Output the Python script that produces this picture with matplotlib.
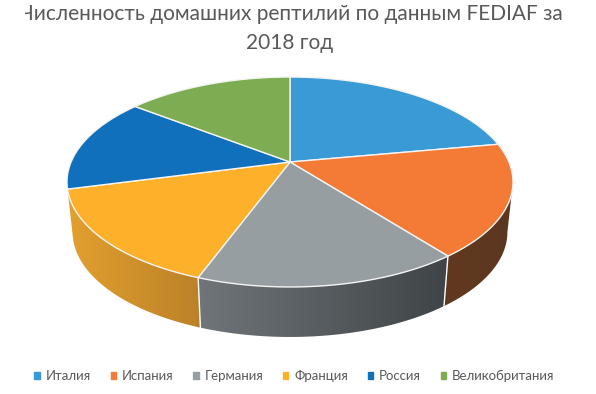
import numpy as np
import matplotlib
matplotlib.use("Agg")
import matplotlib.pyplot as plt
from matplotlib.patches import Polygon, Patch, Rectangle
from matplotlib.colors import LinearSegmentedColormap

plt.rcParams['font.family'] = ['Lato', 'Open Sans', 'DejaVu Sans']

categories = ["Италия", "Испания", "Германия", "Франция", "Россия", "Великобритания"]
shares = [22.1, 17.4, 16.1, 15.3, 14.6, 14.5]
colors = ["#3A9AD6", "#F47B35", "#979EA2", "#FDB02A", "#1170BB", "#7DAC52"]
side_left = ["#3A9AD6", "#61391F", "#70757A", "#E2A02E", "#1170BB", "#7DAC52"]
side_right = ["#3A9AD6", "#5C3720", "#3F4447", "#BC8128", "#1170BB", "#7DAC52"]
title_lines = ["Численность домашних рептилий по данным FEDIAF за", "2018 год"]
text_color = "#595959"

# perspective of the pie disc, in pixels of the picture
CX, CY = 290, 162
PERSP = 0.1905
SCALE_X, SCALE_Y = 218.9, -70.3
DEPTH = 50
SHRINK = 0.975


def top_rim(theta):
    # theta in degrees, clockwise from 12 o'clock
    t = np.radians(theta)
    x, y = np.sin(t), np.cos(t)
    w = 1 + PERSP * y
    return CX + SCALE_X * x / w, (CY + SCALE_Y * y) / w


def bottom_rim(theta):
    x, y = top_rim(theta)
    return CX + (x - CX) * SHRINK, y + DEPTH


fig = plt.figure(figsize=(5.96, 3.94), dpi=100)
ax = fig.add_axes([0, 0, 1, 1])
ax.axis("off")

edges = np.concatenate([[0], np.cumsum(shares)]) / np.sum(shares) * 360
# side wall only shows between these angles
right_limit = 101
left_limit = edges[4]

# side walls first
for i in range(len(shares)):
    a, b = max(edges[i], right_limit), min(edges[i + 1], left_limit)
    if b <= a:
        continue
    th = np.linspace(a, b, 80)
    tx, ty = top_rim(th)
    bx, by = bottom_rim(th)
    pts = np.vstack([np.c_[tx, ty], np.c_[bx, by][::-1]])
    poly = Polygon(pts, closed=True, fc="none", ec="none")
    ax.add_patch(poly)
    cmap = LinearSegmentedColormap.from_list("side", [side_left[i], side_right[i]])
    im = ax.imshow(np.linspace(0, 1, 256)[None, :], cmap=cmap, aspect="auto",
                   extent=[pts[:, 0].min(), pts[:, 0].max(), pts[:, 1].max(), pts[:, 1].min()],
                   zorder=2)
    im.set_clip_path(poly)
    if i > 1:
        ax.plot([bx[0], tx[0]], [by[0], ty[0]], color="white", lw=1, zorder=3)

ax.set_xlim(0, 596)
ax.set_ylim(394, 0)

# top face
for i in range(len(shares)):
    th = np.linspace(edges[i], edges[i + 1], 120)
    x, y = top_rim(th)
    pts = np.vstack([[CX, CY], np.c_[x, y]])
    ax.add_patch(Polygon(pts, closed=True, fc=colors[i], ec="#F4F4F4", lw=1, zorder=4, joinstyle="round"))

ax.text(291.5, 14, title_lines[0], ha="center", va="center", fontsize=15, color=text_color, zorder=5)
ax.text(290, 43, title_lines[1], ha="center", va="center", fontsize=15, color=text_color, zorder=5)
# first letter of the title is cut in the original
ax.add_patch(Rectangle((0, 0), 24.5, 30, fc="white", ec="none", zorder=6))

handles = [Patch(color=c, label=n) for c, n in zip(colors, categories)]
ax.legend(handles=handles, loc="center", bbox_to_anchor=(294.5 / 596, 1 - 376 / 394), ncol=6,
          frameon=False, fontsize=9.5, labelcolor=text_color, handlelength=0.4, handleheight=0.4,
          handletextpad=0.45, columnspacing=1.5, borderpad=0, borderaxespad=0)

fig.savefig("out.png", dpi=100)
